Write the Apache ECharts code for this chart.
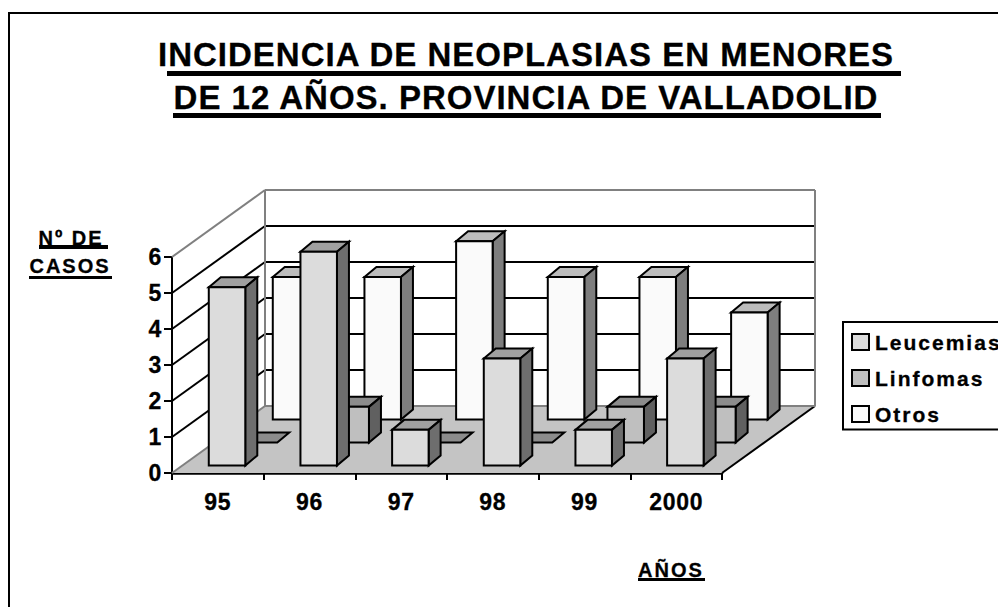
<!DOCTYPE html>
<html>
<head>
<meta charset="utf-8">
<style>
html,body{margin:0;padding:0;background:#fff;overflow:hidden}
#chart{width:998px;height:607px}
#chart text{letter-spacing:2px;stroke:#000;stroke-width:0.3px}
#chart text[style*="33px"]{letter-spacing:1px}
#chart text[style*="23px"]{letter-spacing:0.7px}
</style>
<script src="https://cdn.jsdelivr.net/npm/echarts@6/dist/echarts.min.js"></script>
</head>
<body>
<div id="chart"></div>
<script>
const years=['95','96','97','98','99','2000'];
const leucemias=[5,6,1,3,1,3];
const linfomas=[0,1,0,0,1,1];
const otros=[4,4,5,4,4,3];
const yTicks=[0,1,2,3,4,5,6];

// depth of the fake 3d box, px
const WALL_DX=93, WALL_DY=-67;
const BAR_W=36.5, BAR_DX=12, BAR_DY=-10;
const ROW_DX=32, ROW_DY=-23;
const FRONT_DX=9.2, FRONT_DY=-7.5;
const BAR_SCALE=0.99;

function poly(points,fill,stroke,lineWidth){
    return {type:'polygon',shape:{points:points},style:{fill:fill,stroke:stroke,lineWidth:lineWidth}};
}
function line(a,b,stroke,lineWidth){
    return {type:'line',shape:{x1:a[0],y1:a[1],x2:b[0],y2:b[1]},style:{stroke:stroke,lineWidth:lineWidth}};
}

function renderWalls(params,api){
    const x0=api.coord([0,0])[0]-api.size([1,0])[0]/2;
    const x1=x0+api.size([1,0])[0]*years.length;
    const y0=api.coord([0,0])[1];
    const kids=[];
    kids.push(poly([[x0,y0],[x1,y0],[x1+WALL_DX,y0+WALL_DY],[x0+WALL_DX,y0+WALL_DY]],'#c4c4c4','none',0));
    kids.push(line([x1,y0],[x1+WALL_DX,y0+WALL_DY],'#000',2));
    kids.push(line([x0,y0],[x0+WALL_DX,y0+WALL_DY],'#808080',2));
    yTicks.forEach(function(v){
        const y=api.coord([0,v])[1];
        const c=(v===0||v===6)?'#808080':'#000';
        if(v>0) kids.push(line([x0,y],[x0+WALL_DX,y+WALL_DY],c,2));
        kids.push(line([x0+WALL_DX,y+WALL_DY],[x1+WALL_DX,y+WALL_DY],c,2));
    });
    const top=api.coord([0,6])[1]+WALL_DY;
    kids.push(line([x0+WALL_DX,y0+WALL_DY],[x0+WALL_DX,top],'#808080',2));
    kids.push(line([x1+WALL_DX,y0+WALL_DY],[x1+WALL_DX,top],'#808080',2));
    return {type:'group',children:kids};
}

function barRenderer(row,front,side,topc){
    return function(params,api){
        const base=api.coord([api.value(0),0]);
        const topP=api.coord([api.value(0),api.value(1)]);
        const x=base[0]+FRONT_DX+ROW_DX*row-BAR_W/2;
        const yB=base[1]+FRONT_DY+ROW_DY*row;
        const yT=yB-(base[1]-topP[1])*BAR_SCALE;
        const xR=x+BAR_W;
        const kids=[];
        // value 0 leaves just the flat lid
        kids.push(poly([[x,yT],[x+BAR_DX,yT+BAR_DY],[xR+BAR_DX,yT+BAR_DY],[xR,yT]],topc,'#000',2));
        if(yB-yT>0){
            kids.push(poly([[xR,yT],[xR+BAR_DX,yT+BAR_DY],[xR+BAR_DX,yB+BAR_DY],[xR,yB]],side,'#000',2));
            kids.push(poly([[x,yT],[xR,yT],[xR,yB],[x,yB]],front,'#000',2));
        }
        return {type:'group',children:kids};
    };
}

function underline(x1,x2,y,h){
    return {type:'rect',shape:{x:x1,y:y,width:x2-x1,height:h},style:{fill:'#000'},silent:true};
}
function label(text,x,y){
    return {type:'text',x:x,y:y,silent:true,style:{text:text,font:'bold 20px "Liberation Sans"',fill:'#000',align:'center',verticalAlign:'middle'}};
}

const chart=echarts.init(document.getElementById('chart'),null,{renderer:'svg'});
chart.setOption({
    animation:false,
    backgroundColor:'#fff',
    textStyle:{fontFamily:'"Liberation Sans"',fontWeight:'bold',color:'#000'},
    title:{
        text:'INCIDENCIA DE NEOPLASIAS EN MENORES\nDE 12 AÑOS. PROVINCIA DE VALLADOLID',
        left:521,top:28,textAlign:'center',
        textStyle:{fontFamily:'"Liberation Sans"',fontWeight:'bold',fontSize:33,lineHeight:43,color:'#000'}
    },
    legend:{
        orient:'vertical',left:843,top:322,
        data:['Leucemias','Linfomas','Otros'],
        padding:[9.5,30,5,8],itemGap:15,itemWidth:17,itemHeight:16,
        backgroundColor:'#fff',borderColor:'#000',borderWidth:2,
        icon:'rect',selectedMode:false,
        textStyle:{fontFamily:'"Liberation Sans"',fontWeight:'bold',fontSize:21,color:'#000',padding:[0,0,0,1]}
    },
    grid:{left:172,top:257,width:550,height:216,containLabel:false},
    xAxis:{
        type:'category',data:years,
        axisLine:{lineStyle:{color:'#000',width:2.5}},
        axisTick:{show:true,length:7,lineStyle:{color:'#000',width:2}},
        axisLabel:{fontSize:23,fontWeight:'bold',color:'#000',margin:17,fontFamily:'"Liberation Sans"'},
        splitLine:{show:false}
    },
    yAxis:{
        type:'value',min:0,max:6,interval:1,
        axisLine:{show:true,lineStyle:{color:'#000',width:2}},
        axisTick:{show:true,length:8,lineStyle:{color:'#000',width:2}},
        axisLabel:{fontSize:23,fontWeight:'bold',color:'#000',margin:10,padding:[6,0,0,0],fontFamily:'"Liberation Sans"'},
        splitLine:{show:false}
    },
    graphic:[
        {type:'rect',shape:{x:9,y:13,width:1200,height:800},style:{fill:'none',stroke:'#000',lineWidth:2},silent:true,z:-1},
        underline(167,901,71,5),
        underline(173,881,113,5),
        label('Nº DE',71,238),
        underline(39,108,245,4),
        label('CASOS',70,266),
        underline(29,112,276,3),
        label('AÑOS',671,570),
        underline(638,705,578,3)
    ],
    series:[
        {type:'custom',name:'_walls',silent:true,z:1,data:[0],encode:{x:0},
            renderItem:renderWalls,clip:false,legendHoverLink:false},
        {type:'custom',name:'Otros',z:2,itemStyle:{color:'#fafafa',borderColor:'#000',borderWidth:2},
            data:otros.map((v,i)=>[i,v]),encode:{x:0,y:1},clip:false,
            renderItem:barRenderer(2,'#fafafa','#7e7e7e','#bcbcbc')},
        {type:'custom',name:'Linfomas',z:3,itemStyle:{color:'#bfbfbf',borderColor:'#000',borderWidth:2},
            data:linfomas.map((v,i)=>[i,v]),encode:{x:0,y:1},clip:false,
            renderItem:barRenderer(1,'#bfbfbf','#606060','#8c8c8c')},
        {type:'custom',name:'Leucemias',z:4,itemStyle:{color:'#dcdcdc',borderColor:'#000',borderWidth:2},
            data:leucemias.map((v,i)=>[i,v]),encode:{x:0,y:1},clip:false,
            renderItem:barRenderer(0,'#dcdcdc','#6e6e6e','#a0a0a0')}
    ]
});
</script>
</body>
</html>
